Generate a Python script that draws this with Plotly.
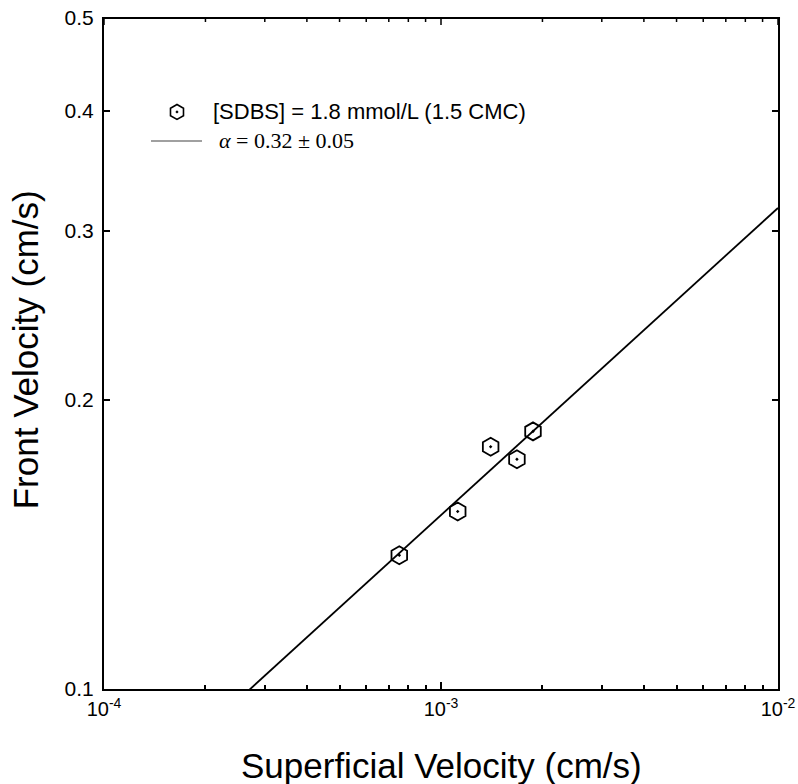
import numpy as np
import plotly.graph_objects as go

# Data
superficial_velocity = [7.52e-4, 1.121e-3, 1.404e-3, 1.680e-3, 1.875e-3]  # cm/s
front_velocity = [0.1378, 0.1531, 0.1788, 0.1735, 0.1855]                 # cm/s

# Power-law fit  v_f = A * v_s ** alpha
fit_alpha = 0.32
fit_prefactor = 1.384
fit_x_range = [1e-4, 1e-2]

x_tickvals = [1e-4, 1e-3, 1e-2]
x_ticktext = ["10<sup>-4</sup>", "10<sup>-3</sup>", "10<sup>-2</sup>"]
x_minor = [m * 10.0 ** e for e in (-4, -3) for m in range(2, 10)]
y_tickvals = [0.1, 0.2, 0.3, 0.4, 0.5]
y_ticktext = ["0.1", "0.2", "0.3", "0.4", "0.5"]

x_title = "Superficial Velocity (cm/s)"
y_title = "Front Velocity (cm/s)"
legend_label_1 = "[SDBS] = 1.8 mmol/L (1.5 CMC)"
legend_label_2 = "<i>α</i> = 0.32 ± 0.05"

fit_x = np.logspace(np.log10(fit_x_range[0]), np.log10(fit_x_range[1]), 200)
fit_y = fit_prefactor * fit_x ** fit_alpha

fig = go.Figure()
fig.add_trace(go.Scatter(x=fit_x, y=fit_y, mode="lines",
                         line=dict(color="black", width=1.8), showlegend=False,
                         hoverinfo="skip"))
fig.add_trace(go.Scatter(x=superficial_velocity, y=front_velocity, mode="markers",
                         marker=dict(symbol="hexagon-open-dot", size=18, color="black",
                                     line=dict(color="black", width=1.8)),
                         showlegend=False))

# legend marker on a hidden overlay axis
fig.add_trace(go.Scatter(x=[0.1083], y=[0.860], mode="markers", xaxis="x2", yaxis="y2",
                         marker=dict(symbol="hexagon-open-dot", size=15, color="black",
                                     line=dict(color="black", width=1.6)),
                         showlegend=False, hoverinfo="skip"))

sans = "Arial, Liberation Sans, sans-serif"
x_tick_font = dict(family=sans, size=20, color="black")
y_tick_font = dict(family=sans, size=21, color="black")
title_font = dict(family=sans, size=35, color="black")

# top frame line and mirrored top ticks (drawn as shapes)
plot_height_px = 671
shapes = [dict(type="line", xref="paper", yref="paper", x0=-0.003, x1=1.003,
               y0=1, y1=1, line=dict(color="black", width=2))]
for v in x_tickvals:
    shapes.append(dict(type="line", xref="x", yref="paper", x0=v, x1=v,
                       y0=1, y1=1 - 7 / plot_height_px, line=dict(color="black", width=1.5)))
for v in x_minor:
    shapes.append(dict(type="line", xref="x", yref="paper", x0=v, x1=v,
                       y0=1, y1=1 - 4 / plot_height_px, line=dict(color="black", width=1.5)))
# legend line sample
shapes.append(dict(type="line", xref="paper", yref="paper", x0=0.0697, x1=0.1454,
                   y0=0.8167, y1=0.8167, line=dict(color="#808080", width=1.5)))

fig.update_layout(
    width=798, height=784,
    margin=dict(l=104, r=20, t=18, b=95, autoexpand=False),
    plot_bgcolor="white", paper_bgcolor="white",
    showlegend=False,
    xaxis=dict(type="log", range=[-4, -2], tickvals=x_tickvals, ticktext=x_ticktext,
               ticks="inside", ticklen=7, tickwidth=1.5, tickcolor="black",
               minor=dict(tickvals=x_minor, ticks="inside", ticklen=4, tickwidth=1.5,
                          tickcolor="black", showgrid=False),
               showline=True, linecolor="black", linewidth=2, mirror=False,
               showgrid=False, zeroline=False, tickfont=x_tick_font,
               ticklabelstandoff=1, ticklabeloverflow="allow", automargin=False),
    yaxis=dict(type="log", range=[-1, np.log10(0.5)], tickvals=y_tickvals, ticktext=y_ticktext,
               ticks="inside", ticklen=6, tickwidth=1.5, tickcolor="black",
               showline=True, linecolor="black", linewidth=2, mirror="ticks",
               showgrid=False, zeroline=False, tickfont=y_tick_font,
               ticklabelstandoff=4, ticklabeloverflow="allow", automargin=False),
    xaxis2=dict(range=[0, 1], overlaying="x", visible=False, fixedrange=True),
    yaxis2=dict(range=[0, 1], overlaying="y", visible=False, fixedrange=True),
    shapes=shapes,
    annotations=[
        dict(text=legend_label_1, xref="paper", yref="paper", x=0.1588, y=0.860,
             xanchor="left", yanchor="middle", showarrow=False,
             font=dict(family=sans, size=22, color="black")),
        dict(text=legend_label_2, xref="paper", yref="paper", x=0.1677, y=0.8167,
             xanchor="left", yanchor="middle", showarrow=False,
             font=dict(family="Times New Roman, Liberation Serif, serif", size=22, color="black")),
        dict(text=x_title, xref="paper", yref="paper", x=0.5, y=-0.1145,
             xanchor="center", yanchor="middle", showarrow=False, font=title_font),
        dict(text=y_title, xref="paper", yref="paper", x=-0.117, y=0.505, textangle=-90,
             xanchor="center", yanchor="middle", showarrow=False, font=title_font),
    ],
)

# remove the default 8px page margin so the figure fills the window exactly
fig.write_html("out.html", config={"displayModeBar": False},
               post_script="document.body.style.margin='0px';")
